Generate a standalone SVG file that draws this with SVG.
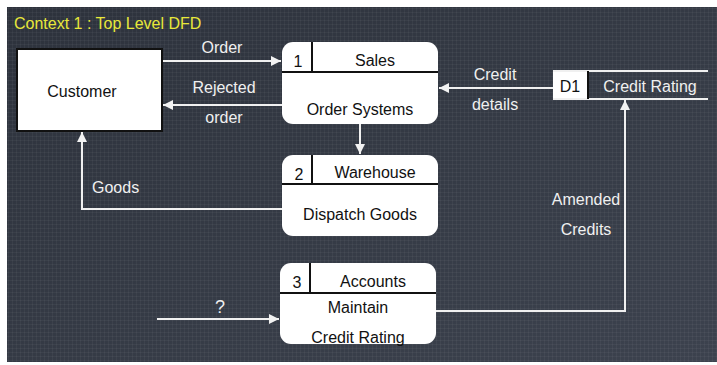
<svg xmlns="http://www.w3.org/2000/svg" width="717" height="365" viewBox="0 0 717 365">
<defs>
<linearGradient id="bg" x1="0" y1="0" x2="1" y2="1">
<stop offset="0" stop-color="#2d323c"/>
<stop offset="1" stop-color="#3c424e"/>
</linearGradient>
<pattern id="grid" width="4" height="4" patternUnits="userSpaceOnUse">
<path d="M0 0.5H4M0.5 0V4" stroke="#ffffff" stroke-opacity="0.04" stroke-width="1"/>
</pattern>
<marker id="arr" viewBox="0 0 10 10" refX="10" refY="5" markerWidth="10" markerHeight="10" markerUnits="userSpaceOnUse" orient="auto">
<path d="M0 0L10 5L0 10Z" fill="#f2f2f2"/>
</marker>
</defs>
<style>
text{font-family:"Liberation Sans","DejaVu Sans",sans-serif;font-size:16px}
.dk{fill:#111111}
.lt{fill:#f0f0f0}
.proc{fill:#ffffff;stroke:none}
.hdr{stroke:#111111;stroke-width:2;fill:none}
.flow{stroke:#f0f0f0;stroke-width:2;fill:none}
</style>
<rect width="717" height="365" fill="#ffffff"/>
<rect x="7" y="7" width="710" height="355" fill="url(#bg)"/>
<rect x="7" y="7" width="710" height="355" fill="url(#grid)"/>
<text x="14" y="29" fill="#e8e83a">Context 1 : Top Level DFD</text>

<g id="connectors">
<path class="flow" d="M163 61H281" marker-end="url(#arr)"/>
<path class="flow" d="M282 105H163" marker-end="url(#arr)"/>
<path class="flow" d="M553 88H439" marker-end="url(#arr)"/>
<path class="flow" d="M360 124V154" marker-end="url(#arr)"/>
<path class="flow" d="M282 209H82V132" marker-end="url(#arr)"/>
<path class="flow" d="M157 319H279" marker-end="url(#arr)"/>
<path class="flow" d="M436 311H625V100" marker-end="url(#arr)"/>
<text class="lt" x="222" y="53" text-anchor="middle">Order</text>
<text class="lt" x="224" y="93" text-anchor="middle">Rejected</text>
<text class="lt" x="224" y="123" text-anchor="middle">order</text>
<text class="lt" x="495" y="80" text-anchor="middle">Credit</text>
<text class="lt" x="495" y="110" text-anchor="middle">details</text>
<text class="lt" x="92" y="193">Goods</text>
<text class="lt" x="220" y="313" text-anchor="middle" style="font-size:18px">?</text>
<text class="lt" x="586" y="205" text-anchor="middle">Amended</text>
<text class="lt" x="586" y="235" text-anchor="middle">Credits</text>
</g>

<g id="customer">
<rect x="17" y="49" width="145" height="82" fill="#ffffff" stroke="#111111" stroke-width="2"/>
<text class="dk" x="82" y="97" text-anchor="middle">Customer</text>
</g>

<g id="p1">
<rect class="proc" x="282" y="42" width="156" height="82" rx="11"/>
<path class="hdr" d="M282 72H438M312 42V72"/>
<text class="dk" x="298" y="67" text-anchor="middle">1</text>
<text class="dk" x="375" y="66" text-anchor="middle">Sales</text>
<text class="dk" x="360" y="115" text-anchor="middle">Order Systems</text>
</g>

<g id="p2">
<rect class="proc" x="282" y="155" width="156" height="81" rx="11"/>
<path class="hdr" d="M282 184H438M312 155V184"/>
<text class="dk" x="299" y="180" text-anchor="middle">2</text>
<text class="dk" x="375" y="178" text-anchor="middle">Warehouse</text>
<text class="dk" x="360" y="220" text-anchor="middle">Dispatch Goods</text>
</g>

<g id="p3">
<rect class="proc" x="280" y="263" width="156" height="81" rx="11"/>
<path class="hdr" d="M280 293H436M310 263V293"/>
<text class="dk" x="297" y="288" text-anchor="middle">3</text>
<text class="dk" x="373" y="287" text-anchor="middle">Accounts</text>
<text class="dk" x="358" y="313" text-anchor="middle">Maintain</text>
<text class="dk" x="358" y="343" text-anchor="middle">Credit Rating</text>
</g>

<g id="d1">
<rect x="553" y="71" width="35" height="28" fill="#ffffff"/>
<path d="M553 71H708M553 99H708" stroke="#f0f0f0" stroke-width="2" fill="none"/>
<path d="M588 71V99" stroke="#111111" stroke-width="2"/>
<text class="dk" x="570" y="92" text-anchor="middle">D1</text>
<text class="lt" x="650" y="92" text-anchor="middle">Credit Rating</text>
</g>
</svg>
